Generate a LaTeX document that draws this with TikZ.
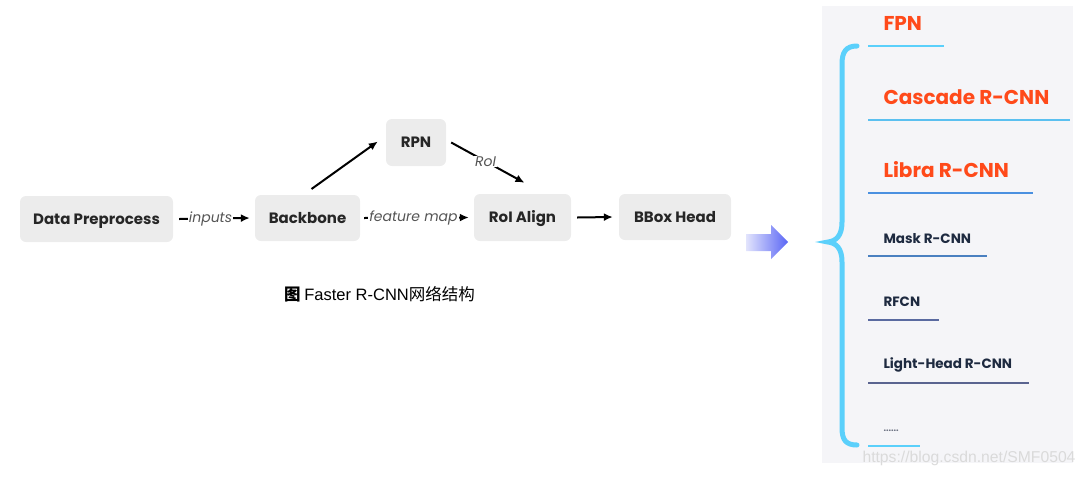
\documentclass[tikz,border=0pt]{standalone}
\usepackage{fontspec}
\setmainfont{Poppins}
\newfontfamily\cjk{Noto Sans CJK SC}
\newfontfamily\arial{Liberation Sans}
\usetikzlibrary{arrows.meta}
\definecolor{boxfill}{HTML}{ECECEC}
\definecolor{panel}{HTML}{F5F5F8}
\definecolor{brace}{HTML}{5BD0FB}
\definecolor{redtxt}{HTML}{FF4A1A}
\definecolor{navy}{HTML}{1E2A40}
\definecolor{lblgray}{HTML}{555555}
\definecolor{arrL}{HTML}{E2E4FC}
\definecolor{arrR}{HTML}{5A66F5}
\definecolor{ulB}{HTML}{5BC0F0}
\definecolor{ulC}{HTML}{4A90E0}
\definecolor{ulD}{HTML}{4A80C0}
\definecolor{ulE}{HTML}{5A6AA0}
\definecolor{ulF}{HTML}{5A6490}
\definecolor{dotc}{HTML}{6A7080}
\definecolor{wmc}{HTML}{DADADA}
\begin{document}
\begin{tikzpicture}[x=1pt,y=-1pt,
  blk/.style={fill=boxfill,rounded corners=6pt,inner sep=0pt,text height=10.5pt,text depth=0pt,font=\bfseries\fontsize{15}{16}\selectfont,text=black!85},
  conn/.style={line width=2pt,-{Latex[length=9pt,width=8pt]}},
  lbl/.style={fill=white,inner sep=1pt,font=\itshape\fontsize{14}{16}\selectfont,text=lblgray},
  big/.style={anchor=west,font=\bfseries\fontsize{20}{22}\selectfont,text=redtxt},
  small/.style={anchor=west,font=\bfseries\fontsize{13.5}{15}\selectfont,text=navy},
  uline/.style={line width=2pt}]
\useasboundingbox (0,0) rectangle (1087,477);
% left diagram
\node[blk,minimum width=153pt,minimum height=46pt] (dp) at (96.5,219) {Data Preprocess};
\node[blk,minimum width=105pt,minimum height=46pt] (bb) at (307.5,218) {Backbone};
\node[blk,minimum width=60pt,minimum height=47pt] (rpn) at (416,142.5) {RPN};
\node[blk,minimum width=97pt,minimum height=47pt] (roi) at (522.5,217.5) {RoI Align};
\node[blk,minimum width=112pt,minimum height=46pt] (bh) at (675,217) {BBox Head};
\draw[conn] ([xshift=6pt]dp.east) -- ([xshift=-5pt]bb.west) node[lbl,midway,xshift=-4pt] {inputs};
\draw[conn] ([xshift=4pt,yshift=29pt]bb.center) -- ([xshift=-8pt,yshift=1pt]rpn.west);
\draw[conn] ([xshift=5pt]rpn.east) -- ([xshift=2pt,yshift=11pt]roi.north) node[lbl,pos=0.47] {RoI};
\draw[conn] ([xshift=4pt]bb.east) -- ([xshift=-5pt]roi.west) node[lbl,midway,xshift=-3pt] {feature map};
\draw[conn] ([xshift=6pt]roi.east) -- ([xshift=-6pt]bh.west);
\node[font=\cjk\fontsize{16.5}{18}\selectfont,text=black] (cap) at (379.5,294) {{\bfseries 图} {\arial\fontsize{16.5}{18}\selectfont Faster R-CNN}网络结构};
% gradient arrow
\shade[left color=arrL,right color=arrR] (746,234) -- (771,234) -- (771,225) -- (788,242) -- (771,259) -- (771,251) -- (746,251) -- cycle;
% right panel
\fill[panel] (822,6) rectangle (1073,463);
\draw[brace,line width=5pt,line cap=round] (857,46) .. controls (846,46) and (842,52) .. (842,64)
  -- (842,222) .. controls (842,236) and (836,241) .. (828,242)
  .. controls (836,243) and (842,248) .. (842,262)
  -- (842,428) .. controls (842,440) and (846,445) .. (857,445);
\node[big] (fpn) at (880,23) {FPN};
\draw[uline,color=brace] (868,46) -- (944,46);
\node[big] (cas) at (880,97) {Cascade R-CNN};
\draw[uline,color=ulB] (868,120) -- (1070,120);
\node[big] (lib) at (880,170) {Libra R-CNN};
\draw[uline,color=ulC] (868,193) -- (1033,193);
\node[small] (mask) at (880,239) {Mask R-CNN};
\draw[uline,color=ulD] (868,256) -- (987,256);
\node[small] (rfcn) at (880,302) {RFCN};
\draw[uline,color=ulE] (868,320) -- (939,320);
\node[small] (lh) at (880,365) {Light-Head R-CNN};
\draw[uline,color=ulF] (868,383) -- (1029,383);
\node[small,font=\bfseries\fontsize{9}{10}\selectfont,text=dotc] (dots) at (880,431) {......};
\draw[uline,color=brace] (868,446) -- (920,446);
\node[font=\arial\fontsize{15.7}{17}\selectfont,text=wmc,anchor=east] (wm) at (1079,458) {https://blog.csdn.net/SMF0504};
\end{tikzpicture}
\end{document}
